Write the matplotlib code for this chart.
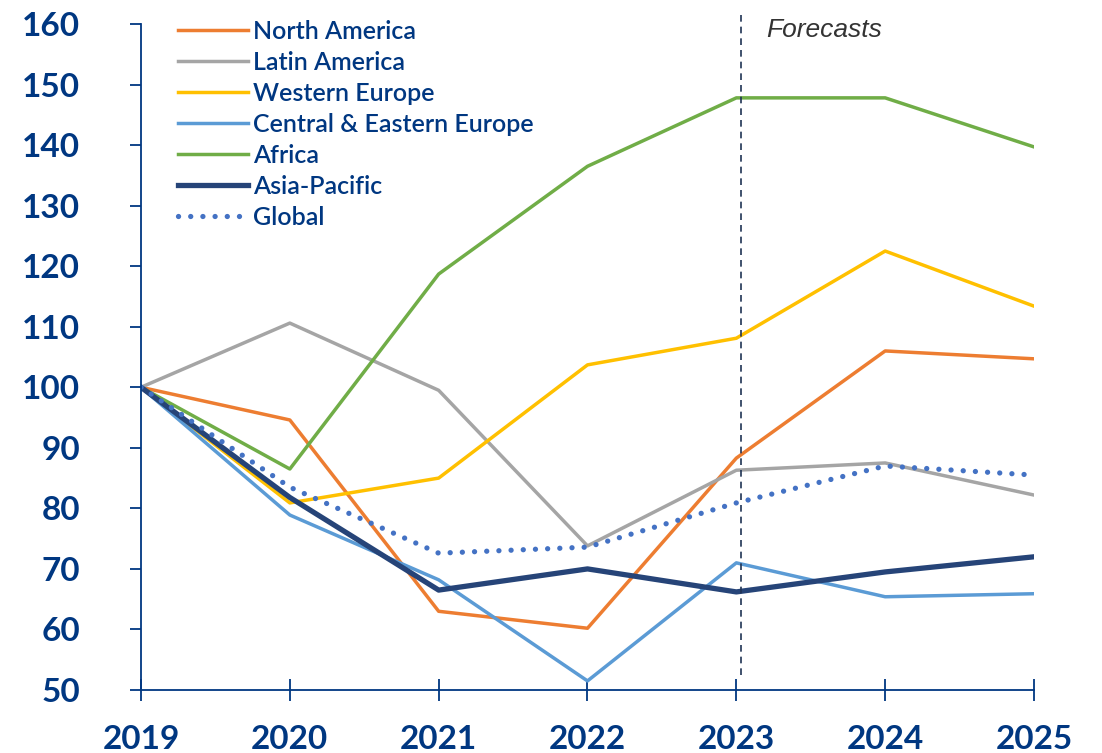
import matplotlib
matplotlib.use("Agg")
import matplotlib.pyplot as plt

years = [2019, 2020, 2021, 2022, 2023, 2024, 2025]
north_america = [100, 94.6, 63.0, 60.2, 88.3, 106.0, 104.7]
latin_america = [100, 110.6, 99.5, 73.8, 86.3, 87.5, 82.2]
western_europe = [100, 80.9, 85.0, 103.7, 108.1, 122.5, 113.4]
cee = [100, 78.9, 68.2, 51.5, 71.0, 65.4, 65.9]
africa = [100, 86.5, 118.7, 136.5, 147.8, 147.8, 139.7]
asia_pacific = [100, 81.8, 66.5, 70.0, 66.2, 69.5, 72.0]
global_ = [100, 83.5, 72.6, 73.6, 80.9, 87.0, 85.5]
y_ticks = [50, 60, 70, 80, 90, 100, 110, 120, 130, 140, 150, 160]
forecast_x = 2023.03

BLUE = "#003781"

fig = plt.figure(figsize=(11.02, 7.53), dpi=100)
ax = fig.add_axes([141/1102, 63/753, (1034-141)/1102, (690-24)/753])

ax.plot(years, north_america, color="#ED7D31", lw=2.5, label="North America")
ax.plot(years, latin_america, color="#A5A5A5", lw=2.5, label="Latin America")
ax.plot(years, western_europe, color="#FFC000", lw=2.5, label="Western Europe")
ax.plot(years, cee, color="#5B9BD5", lw=2.5, label="Central & Eastern Europe")
ax.plot(years, africa, color="#70AD47", lw=2.5, label="Africa")
ax.plot(years, asia_pacific, color="#264478", lw=3.8, label="Asia-Pacific")
ax.plot(years, global_, color="#4472C4", lw=3.8, linestyle=(0, (0.01, 2.3)),
        dash_capstyle="round", label="Global")

ax.axvline(forecast_x, ymin=0.0225, ymax=1.018, color="#1F3354", lw=1.2,
           linestyle=(0, (4, 3)), clip_on=False)
ax.text(2023.2, 159.0, "Forecasts", fontsize=19, style="italic",
        family="Liberation Sans", color="#333333", va="center", ha="left")

ax.set_xlim(2019, 2025)
ax.set_ylim(50, 160)
ax.set_xticks(years)
ax.set_yticks(y_ticks)
for s in ["top", "right"]:
    ax.spines[s].set_visible(False)
for s in ["left", "bottom"]:
    ax.spines[s].set_color(BLUE)
    ax.spines[s].set_linewidth(1.3)
ax.tick_params(axis="y", direction="out", length=8, width=1.3, color=BLUE,
               labelcolor=BLUE, labelsize=24, pad=36)
ax.tick_params(axis="x", direction="inout", length=16, width=1.3, color=BLUE,
               labelcolor=BLUE, labelsize=24, pad=17)
for lab in ax.get_xticklabels() + ax.get_yticklabels():
    lab.set_fontfamily("Lato")
    lab.set_fontweight("bold")

leg = ax.legend(loc="upper left", bbox_to_anchor=(0.030, 1.021), frameon=False,
                prop={"family": "Lato", "size": 18, "weight": "semibold"},
                handlelength=2.8, handletextpad=0.22, labelspacing=0.32,
                borderaxespad=0)
for t in leg.get_texts():
    t.set_color(BLUE)

fig.savefig("out.png", dpi=100)
